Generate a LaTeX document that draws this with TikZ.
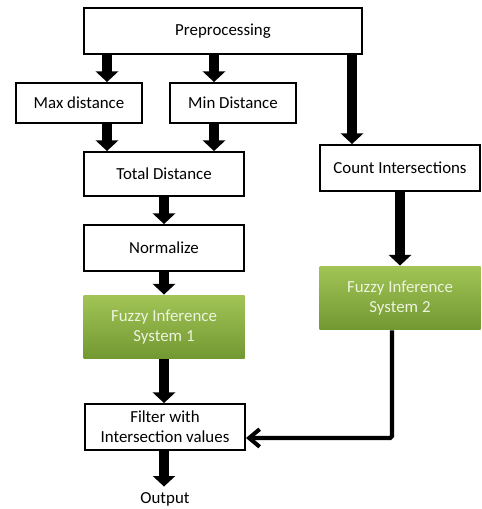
\documentclass[tikz,border=0pt]{standalone}
\usepackage{fontspec}
\setmainfont{Carlito}
\usepackage{tikz}
\usetikzlibrary{arrows.meta}

\definecolor{fisTop}{RGB}{162,196,86}
\definecolor{fisBot}{RGB}{114,152,50}
\definecolor{fisText}{RGB}{236,244,222}

\tikzset{
  box/.style={draw, line width=1.1pt, inner sep=0pt, align=center},
  fis/.style={box, draw=none, top color=fisTop, bottom color=fisBot, text=fisText},
  fat/.style={line width=5.7pt, -{Triangle[width=12.5pt,length=6pt]}},
  thin/.style={line width=2.3pt, -{Straight Barb[width=10pt,length=6pt,line width=2.3pt]}}
}

\begin{document}
\begin{tikzpicture}[x=0.02cm, y=-0.02cm, font=\fontsize{9.6}{11.3}\selectfont]
	  \useasboundingbox (0,0) rectangle (482,509);

	  \node[box, minimum width=278*0.02cm, minimum height=46*0.02cm] (pre)   at (223,31)  {Preprocessing};
	  \node[box, minimum width=126*0.02cm, minimum height=40*0.02cm] (max)   at (79,103)  {Max distance};
	  \node[box, minimum width=126*0.02cm, minimum height=40*0.02cm] (min)   at (233,103) {Min Distance};
	  \node[box, minimum width=160*0.02cm, minimum height=44*0.02cm] (total) at (164,174) {Total Distance};
	  \node[box, minimum width=160*0.02cm, minimum height=46*0.02cm] (norm)  at (164,248) {Normalize};
	  \node[fis, minimum width=161*0.02cm, minimum height=63*0.02cm] (fis1)  at (164,327) {Fuzzy Inference\\System 1};
	  \node[box, minimum width=160*0.02cm, minimum height=46*0.02cm] (count) at (400,168) {Count Intersections};
	  \node[fis, minimum width=161*0.02cm, minimum height=63*0.02cm] (fis2)  at (400,298) {Fuzzy Inference\\System 2};
	  \node[box, minimum width=160*0.02cm, minimum height=46*0.02cm] (filt)  at (165,427) {Filter with\\Intersection values};
	  \node[inner sep=3pt] (out) at (165,499) {Output};

	  \coordinate (a1) at (107,0);
	  \coordinate (a2) at (214,0);
	  \coordinate (a3) at (352,0);
	  \coordinate (a4) at (164,0);
	  \coordinate (turn) at (392,438);

	  \draw[fat] (pre.south -| a1) -- (max.north -| a1);
	  \draw[fat] (pre.south -| a2) -- (min.north -| a2);
	  \draw[fat] (pre.south -| a3) -- (count.north -| a3);
	  \draw[fat] (max.south -| a1) -- (total.north -| a1);
	  \draw[fat] (min.south -| a2) -- (total.north -| a2);
	  \draw[fat] (total.south -| a4) -- (norm.north -| a4);
	  \draw[fat] (norm.south -| a4) -- (fis1.north -| a4);
	  \draw[fat] (fis1.south -| a4) -- (filt.north -| a4);
	  \draw[fat] (count) -- (fis2);
	  \draw[fat] (filt.south -| a4) -- (out.north -| a4);
	  \draw[thin, rounded corners=1pt] (fis2.south -| turn) -- (turn) -- (filt.east |- turn);
	\end{tikzpicture}
\end{document}
